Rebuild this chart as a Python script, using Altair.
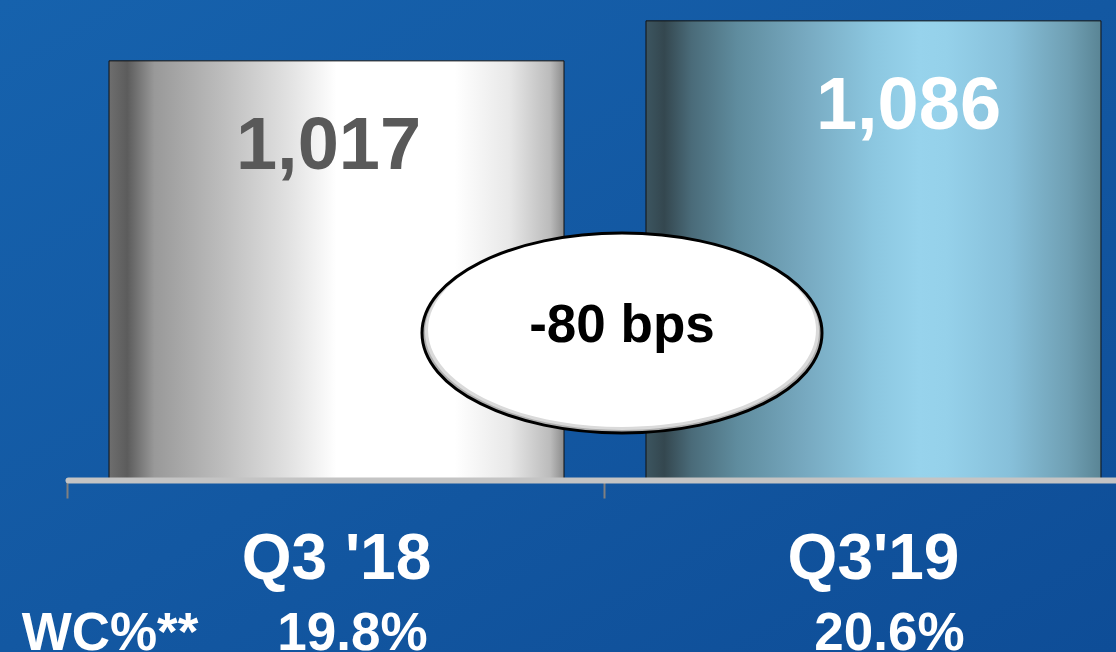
import altair as alt
import pandas as pd

quarters = ["Q3 '18", "Q3'19"]
values = [1017, 1086]
value_labels = ["1,017", "1,086"]
wc_labels = ["19.8%", "20.6%"]
wc_header = "WC%**"
change_label = "-80 bps"

Y_MIN, Y_MAX = 294, 1122
FONT = "Liberation Sans"

df = pd.DataFrame({"quarter": quarters, "value": values,
                   "label": value_labels, "wc": wc_labels})

x_enc = alt.X(
    "quarter:N", sort=quarters, title=None,
    scale=alt.Scale(range=[0, 1074], paddingInner=0.1527, paddingOuter=0.0764),
    axis=alt.Axis(
        labelAngle=0, labelFontSize=64, labelFont=FONT, labelFontWeight="bold",
        labelColor="white", labelBaseline="alphabetic", labelPadding=80,
        labelLimit=0,
        domainColor="#c4c4c4", domainWidth=6, domainCap="round",
        tickColor="#808080", tickWidth=2, tickSize=18, bandPosition=-0.0902,
        zindex=1,
    ),
)
y_enc = alt.Y("value:Q", scale=alt.Scale(domain=[Y_MIN, Y_MAX], zero=False, nice=False),
              axis=None)

bg = alt.Chart(pd.DataFrame({"a": [0]})).mark_rect(
    fill=alt.LinearGradient(gradient="linear", x1=0, y1=0, x2=1, y2=1,
                            stops=[alt.GradientStop(offset=0, color="#1662ad"),
                                   alt.GradientStop(offset=0.5, color="#1358a2"),
                                   alt.GradientStop(offset=1, color="#0e4d97")])
).encode(x=alt.value(-68), x2=alt.value(1048), y=alt.value(0), y2=alt.value(652))

g1 = alt.LinearGradient(gradient="linear", x1=0, y1=0, x2=1, y2=0, stops=[
    alt.GradientStop(offset=0, color="#6e6e6e"),
    alt.GradientStop(offset=0.04, color="#5c5c5c"),
    alt.GradientStop(offset=0.1, color="#999999"),
    alt.GradientStop(offset=0.25, color="#bdbdbd"),
    alt.GradientStop(offset=0.39, color="#e0e0e0"),
    alt.GradientStop(offset=0.5, color="#ffffff"),
    alt.GradientStop(offset=0.76, color="#ffffff"),
    alt.GradientStop(offset=0.88, color="#e8e8e8"),
    alt.GradientStop(offset=0.97, color="#bbbbbb"),
    alt.GradientStop(offset=1, color="#8c8c8c"),
])
g2 = alt.LinearGradient(gradient="linear", x1=0, y1=0, x2=1, y2=0, stops=[
    alt.GradientStop(offset=0, color="#3c5560"),
    alt.GradientStop(offset=0.04, color="#34474f"),
    alt.GradientStop(offset=0.1, color="#4a6b79"),
    alt.GradientStop(offset=0.2, color="#5f8c9e"),
    alt.GradientStop(offset=0.35, color="#77a9c0"),
    alt.GradientStop(offset=0.5, color="#8cc7e0"),
    alt.GradientStop(offset=0.6, color="#97d3ec"),
    alt.GradientStop(offset=0.66, color="#95d1ea"),
    alt.GradientStop(offset=0.8, color="#87c0da"),
    alt.GradientStop(offset=0.93, color="#6f9fb3"),
    alt.GradientStop(offset=1, color="#5a8595"),
])

base = alt.Chart(df)

def bar_layer(q, grad, color, dx):
    sub = base.transform_filter(alt.datum.quarter == q)
    bar = sub.mark_bar(fill=grad, stroke="#111111", strokeWidth=1).encode(
        x=x_enc, y=y_enc, y2=alt.Y2(datum=Y_MIN))
    txt = sub.mark_text(font=FONT, fontWeight="bold", fontSize=74, color=color,
                        baseline="alphabetic", dy=108, dx=dx).encode(
        x=alt.X("quarter:N", sort=quarters), y="value:Q", text="label:N")
    return bar + txt

b1 = bar_layer(quarters[0], g1, "#595959", -8)
b2 = bar_layer(quarters[1], g2, "white", 35)

wc = base.mark_text(font=FONT, fontWeight="bold", fontSize=53, color="white",
                    baseline="alphabetic", dx=16).encode(
    x=alt.X("quarter:N", sort=quarters), y=alt.value(650), text="wc:N")
hdr = alt.Chart(pd.DataFrame({"t": [wc_header]})).mark_text(
    font=FONT, fontWeight="bold", fontSize=53, color="white", baseline="alphabetic"
).encode(x=alt.value(42), y=alt.value(650), text="t:N")

ell = "M -1 0 A 1 0.5 0 1 0 1 0 A 1 0.5 0 1 0 -1 0 Z"
edf = pd.DataFrame({"t": [change_label]})
e_gray = alt.Chart(edf).mark_point(shape=ell, filled=True, fill="#b0b0b0", opacity=1,
                                   strokeWidth=0, size=400 ** 2).encode(
    x=alt.value(554), y=alt.value(333))
e_mid = alt.Chart(edf).mark_point(shape=ell, filled=True, fill="#dadada", opacity=1,
                                  strokeWidth=0, size=394 ** 2).encode(
    x=alt.value(554), y=alt.value(331.5))
e_white = alt.Chart(edf).mark_point(shape=ell, filled=True, fill="#ffffff", opacity=1,
                                    strokeWidth=0, size=388 ** 2).encode(
    x=alt.value(554), y=alt.value(330))
e_stroke = alt.Chart(edf).mark_point(shape=ell, filled=False, stroke="#000000",
                                     strokeWidth=3, opacity=1, size=400 ** 2).encode(
    x=alt.value(554), y=alt.value(333))
e_text = alt.Chart(edf).mark_text(font=FONT, fontWeight="bold", fontSize=53,
                                  color="black", baseline="alphabetic").encode(
    x=alt.value(554), y=alt.value(342), text="t:N")

chart = alt.layer(bg, b1, b2, wc, hdr, e_gray, e_mid, e_white, e_stroke, e_text).properties(
    width=1048, height=480,
    autosize=alt.AutoSizeParams(type="none"),
    padding={"left": 68, "top": 0, "right": 0, "bottom": 172},
    background="#1358a2",
).configure_view(stroke=None)

chart.save("out.html", embed_options={"renderer": "svg", "actions": False})
